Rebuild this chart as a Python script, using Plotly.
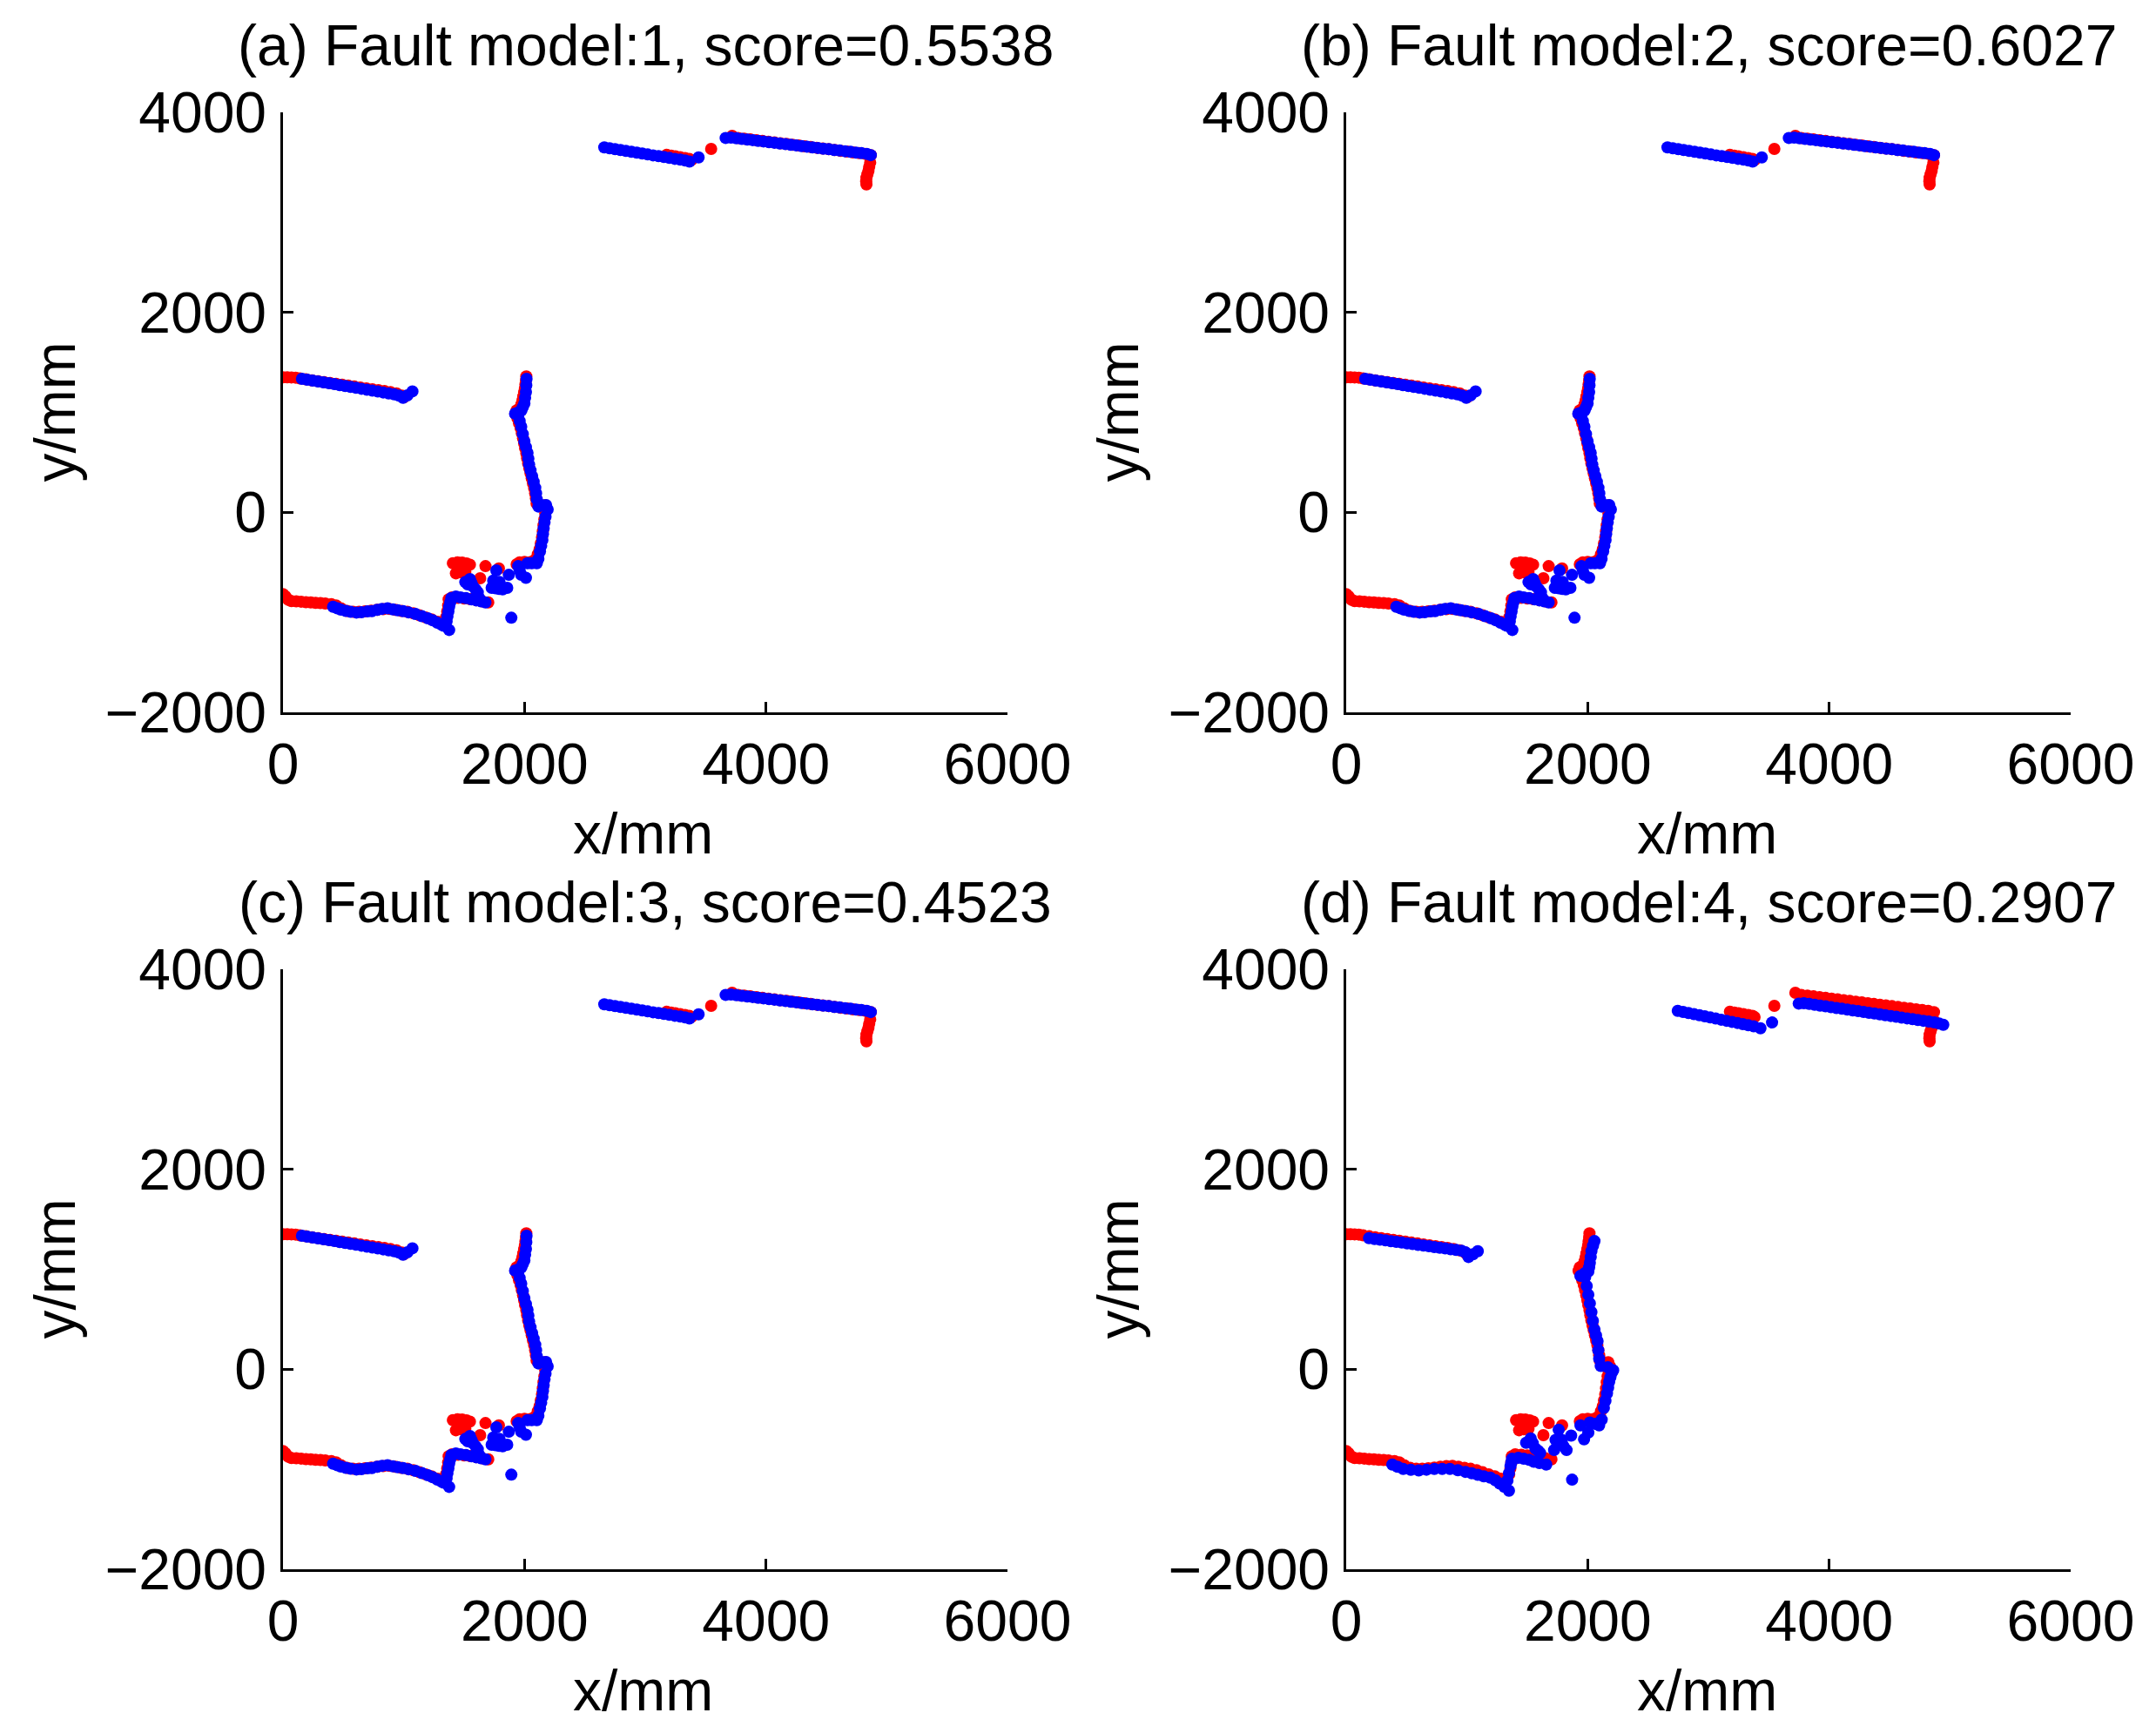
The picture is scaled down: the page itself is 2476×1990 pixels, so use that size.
import plotly.graph_objects as go

# ---------------- data (mm) ----------------
titles = ["(a) Fault model:1, score=0.5538", "(b) Fault model:2, score=0.6027",
          "(c) Fault model:3, score=0.4523", "(d) Fault model:4, score=0.2907"]
x_ticks = [0, 2000, 4000, 6000]
y_ticks = [-2000, 0, 2000, 4000]

# red scan (same in all panels)
red_x = [3178, 3215, 3250, 3290, 3330, 3365, 3382,
         3546,
         3720, 3770, 3820, 3870, 3920, 3970, 4020, 4070, 4120, 4170, 4220, 4270, 4320, 4370,
         4420, 4470, 4520, 4570, 4620, 4670, 4720, 4770, 4820, 4868,
         4863, 4855, 4849, 4840, 4832, 4830, 4832,
         0, 35, 70, 105, 140, 190, 240, 290, 340, 390, 440, 490, 540, 590, 640, 690, 740, 790,
         840, 890, 940, 985, 1000,
         0, 20, 45, 70, 110, 150, 190, 230, 270, 310, 350, 400, 440, 480, 530, 580, 630, 680,
         730, 780, 830, 880, 930, 980, 1030, 1080, 1130, 1180, 1230, 1280, 1320,
         1350, 1360, 1368, 1372, 1400, 1450, 1500, 1550, 1600, 1650, 1700,
         1407, 1445, 1484, 1520, 1548, 1432, 1470, 1510, 1633, 1677, 1788,
         1935, 1960, 2000,
         2040, 2080, 2110, 2125, 2135, 2145, 2152, 2158, 2165, 2172, 2185, 2170, 2130, 2100,
         2095, 2088, 2080, 2070, 2060, 2050, 2040, 2030, 2022, 2015, 2005, 1997, 1988, 1978,
         1968, 1955, 1942, 1925, 1935, 1960, 1975, 1983, 1990, 1997, 2003, 2008, 2012, 2015]
red_y = [3575, 3567, 3560, 3551, 3543, 3535, 3522,
         3634,
         3765, 3744, 3737, 3729, 3722, 3714, 3707, 3699, 3691, 3684, 3676, 3669, 3661, 3653,
         3646, 3638, 3631, 3623, 3615, 3608, 3600, 3593, 3585, 3572,
         3497, 3455, 3416, 3380, 3346, 3310, 3279,
         1350, 1350, 1349, 1347, 1340, 1330, 1320, 1312, 1303, 1294, 1285, 1276, 1267, 1258,
         1249, 1240, 1231, 1222, 1213, 1202, 1190, 1168, 1150,
         -818, -840, -875, -888, -890, -893, -898, -900, -905, -908, -912, -918, -930, -960,
         -985, -995, -995, -990, -983, -975, -968, -965, -975, -985, -995, -1010, -1030,
         -1050, -1070, -1095, -1115,
         -1050, -990, -930, -870, -850, -855, -862, -868, -878, -890, -900,
         -509, -500, -503, -510, -523, -610, -600, -596, -659, -538, -561,
         -520, -500, -495,
         -500, -480, -420, -370, -310, -250, -190, -130, -70, -10, 30, 70, 70, 90,
         140, 190, 240, 290, 340, 390, 440, 490, 540, 590, 640, 690, 740, 790,
         840, 890, 940, 985, 1020, 1040, 1080, 1120, 1160, 1200, 1240, 1280, 1320, 1360]

# blue scan, panels (a)-(c)
blue_abc_x = [2661, 2705, 2750, 2795, 2840, 2885, 2930, 2975, 3020, 3065, 3110, 3155, 3200,
              3245, 3290, 3330, 3366, 3442,
              3666, 3710, 3755, 3800, 3845, 3890, 3935, 3980, 4025, 4070, 4115, 4160, 4205,
              4250, 4295, 4340, 4385, 4430, 4475, 4520, 4565, 4610, 4655, 4700, 4745, 4790,
              4835, 4868,
              157, 200, 245, 290, 335, 380, 425, 470, 515, 560, 605, 650, 695, 740, 785, 830,
              875, 920, 960, 994, 1030, 1072,
              415, 450, 479, 520, 560, 608, 650, 700, 737, 780, 820, 866, 910, 950, 994, 1040,
              1097, 1150, 1200, 1240, 1278, 1310, 1329, 1376,
              1355, 1362, 1370, 1376, 1385, 1394, 1432, 1470, 1515, 1561, 1600, 1640, 1677,
              1510, 1548, 1560, 1574, 1595, 1613, 1625, 1530,
              1728, 1741, 1767, 1793, 1819, 1857, 1870, 1760, 1790,
              1891,
              1948, 1973, 2012, 1960, 2025, 2060, 2102, 2115,
              2128, 2138, 2148, 2153, 2159, 2166, 2174, 2192, 2179, 2150, 2115, 2102, 2096,
              2089, 2076, 2063, 2050, 2038, 2032, 2025, 2012, 1999, 1986, 1973, 1960, 1948,
              1922, 1950, 1973, 1986, 1999, 2005, 2012, 2015, 2017]
blue_abc_y = [3649, 3641, 3632, 3623, 3614, 3606, 3597, 3588, 3579, 3570, 3562, 3553, 3544,
              3535, 3527, 3519, 3508, 3549,
              3744, 3748, 3741, 3735, 3728, 3722, 3715, 3709, 3702, 3696, 3689, 3683, 3676,
              3670, 3663, 3657, 3650, 3644, 3637, 3631, 3624, 3618, 3611, 3605, 3598, 3592,
              3585, 3572,
              1335, 1327, 1318, 1309, 1300, 1291, 1282, 1272, 1263, 1254, 1245, 1236, 1227,
              1217, 1208, 1199, 1190, 1180, 1168, 1146, 1170, 1210,
              -944, -960, -973, -985, -995, -1002, -998, -990, -988, -975, -965, -959, -970,
              -980, -988, -1000, -1016, -1038, -1060, -1080, -1104, -1120, -1133, -1176,
              -1089, -1040, -990, -944, -900, -857, -842, -850, -858, -871, -880, -890, -900,
              -697, -668, -705, -741, -770, -799, -857, -720,
              -755, -683, -581, -697, -770, -755, -625, -760, -765,
              -1054,
              -538, -625, -654, -580, -509, -509, -509, -465,
              -392, -335, -276, -218, -160, -100, -44, 29, 72, 70, 58, 130, 190,
              246, 305, 362, 420, 479, 537, 595, 653, 711, 783, 856, 914, 972,
              987, 1000, 1016, 1052, 1088, 1146, 1204, 1270, 1335]

# blue scan, panel (d)
blue_d_x = [2746, 2790, 2835, 2880, 2925, 2970, 3015, 3060, 3105, 3150, 3195, 3240, 3285,
            3330, 3375, 3431, 3527,
            3748, 3790, 3835, 3880, 3925, 3970, 4015, 4060, 4105, 4150, 4195, 4240, 4285,
            4330, 4375, 4420, 4465, 4510, 4555, 4600, 4645, 4690, 4735, 4780, 4825, 4870,
            4910, 4945,
            189, 235, 280, 325, 370, 415, 460, 505, 550, 595, 640, 685, 730, 775, 820, 865,
            910, 955, 987, 1013, 1050, 1090,
            382, 425, 472, 535, 601, 665, 730, 795, 859, 925, 987, 1040, 1090, 1140, 1193,
            1235, 1271, 1310, 1348,
            1335, 1348, 1361, 1368, 1374, 1425, 1470, 1515, 1554, 1600, 1657,
            1490, 1528, 1545, 1567, 1590, 1606,
            1722, 1734, 1760, 1786, 1825, 1863, 1750, 1800,
            1871,
            1940, 2005, 1970, 2018, 2060, 2095, 2116,
            2134, 2147, 2160, 2169, 2178, 2188, 2198, 2211, 2167, 2108, 2095, 2088, 2082,
            2069, 2056, 2043, 2031, 2018, 2005, 1992, 1979, 1940, 1975, 2005, 2012, 2018,
            2025, 2031, 2044, 2056]
blue_d_y = [3584, 3573, 3562, 3551, 3540, 3529, 3518, 3507, 3496, 3485, 3474, 3463, 3452,
            3441, 3430, 3410, 3468,
            3657, 3660, 3653, 3645, 3637, 3629, 3621, 3613, 3605, 3597, 3589, 3581, 3573,
            3565, 3557, 3549, 3541, 3533, 3525, 3517, 3509, 3501, 3493, 3485, 3477, 3469,
            3458, 3445,
            1311, 1303, 1296, 1289, 1281, 1274, 1267, 1259, 1252, 1244, 1237, 1230, 1222,
            1215, 1208, 1200, 1193, 1186, 1170, 1123, 1150, 1181,
            -953, -975, -997, -1005, -1011, -1004, -997, -997, -997, -1010, -1026, -1040,
            -1055, -1070, -1084, -1110, -1142, -1175, -1214,
            -1113, -1040, -968, -930, -895, -886, -895, -905, -924, -938, -953,
            -735, -692, -740, -793, -815, -837,
            -808, -706, -605, -706, -808, -663, -760, -770,
            -1104,
            -561, -634, -700, -532, -545, -561, -503,
            -387, -315, -242, -184, -126, -80, -39, -10, 20, 34, 107, 190, 281,
            339, 397, 484, 571, 658, 745, 832, 919, 934, 960, 977, 1020, 1065,
            1123, 1181, 1235, 1282]

# ---------------- layout ----------------
W, H = 2476, 1990
FONT = "Liberation Sans, Arial, Helvetica, sans-serif"
FS = 66
MS = 14

def px(x):
    return x / W

def py(y):
    return 1 - y / H

col_x = [(325, 1157), (1546, 2378)]
row_y = [(129, 818), (1113, 1802)]

fig = go.Figure()

panels = [(0, 0, blue_abc_x, blue_abc_y), (0, 1, blue_abc_x, blue_abc_y),
          (1, 0, blue_abc_x, blue_abc_y), (1, 1, blue_d_x, blue_d_y)]

for i, (r, c, bx, by) in enumerate(panels):
    n = "" if i == 0 else str(i + 1)
    xa, ya = "x" + n, "y" + n
    fig.add_trace(go.Scatter(x=red_x, y=red_y, mode="markers", xaxis=xa, yaxis=ya,
                             marker=dict(color="#ff0000", size=MS, line=dict(width=0)),
                             showlegend=False, hoverinfo="skip"))
    fig.add_trace(go.Scatter(x=bx, y=by, mode="markers", xaxis=xa, yaxis=ya,
                             marker=dict(color="#0000ff", size=MS, line=dict(width=0)),
                             showlegend=False, hoverinfo="skip"))
    x0, x1 = col_x[c]
    y0, y1 = row_y[r]
    axcommon = dict(showgrid=False, zeroline=False, showline=True, linecolor="black",
                    linewidth=2.5, ticks="inside", ticklen=12, tickwidth=2.5,
                    tickcolor="black", mirror=False, automargin=False,
                    tickfont=dict(family=FONT, size=FS, color="black"))
    fig.update_layout(**{
        "xaxis" + n: dict(axcommon, domain=[px(x0), px(x1)], range=[0, 6000],
                          tickvals=x_ticks, anchor=ya, ticklabelstandoff=0),
        "yaxis" + n: dict(axcommon, domain=[py(y1), py(y0)], range=[-2000, 4000],
                          tickvals=y_ticks, anchor=xa, ticklabelstandoff=3),
    })
    cx = (x0 + x1) / 2
    fig.add_annotation(x=px(cx), y=py(y0 - 77), xref="paper", yref="paper",
                       text=titles[i], showarrow=False, xanchor="center", yanchor="middle",
                       font=dict(family=FONT, size=FS, color="black"))
    fig.add_annotation(x=px(cx - 2), y=py(y1 + 139), xref="paper", yref="paper",
                       text="x/mm", showarrow=False, xanchor="center", yanchor="middle",
                       font=dict(family=FONT, size=FS, color="black"))
    fig.add_annotation(x=px(x0 - 263), y=py((y0 + y1) / 2), xref="paper", yref="paper",
                       text="y/mm", showarrow=False, xanchor="center", yanchor="middle",
                       textangle=-90, font=dict(family=FONT, size=FS, color="black"))

fig.update_layout(width=W, height=H, margin=dict(l=0, r=0, t=0, b=0, autoexpand=False),
                  paper_bgcolor="white", plot_bgcolor="white", showlegend=False)

fig.write_html("out.html", config={"displayModeBar": False},
               post_script="document.body.style.margin='0px';document.body.style.padding='0px';")
